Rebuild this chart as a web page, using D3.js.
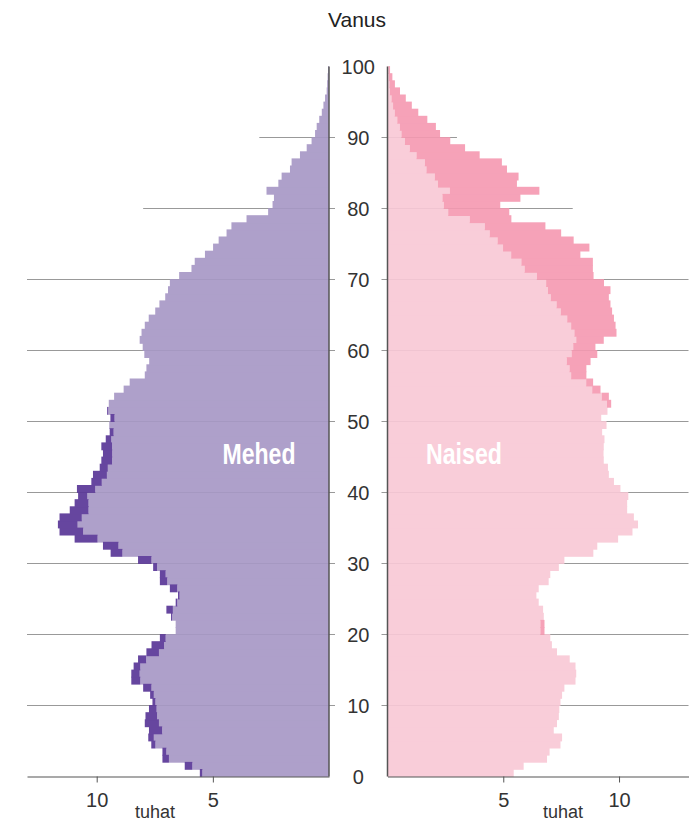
<!DOCTYPE html>
<html>
<head>
<meta charset="utf-8">
<script src="https://cdn.jsdelivr.net/npm/d3@7"></script>
<style>
  body { margin: 0; background: #fff; }
  svg { display: block; font-family: "Liberation Sans", Arial, sans-serif; }
</style>
</head>
<body>
<svg></svg>
<script>
// vanus 0..99, tuhandetes
const ages = d3.range(0, 100);

const male = [
  5.56, 6.21, 7.17, 7.17, 7.65, 7.78, 7.75, 7.93, 7.90, 7.75,
  7.60, 7.70, 8.00, 8.51, 8.51, 8.41, 8.22, 7.86, 7.64, 7.28,
  6.60, 6.60, 6.80, 7.00, 6.60, 6.50, 6.85, 7.28, 7.28, 7.57,
  8.22, 9.40, 9.73, 10.95, 11.60, 11.67, 11.60, 11.16, 10.95, 10.80,
  10.85, 10.23, 10.16, 9.87, 9.80, 9.73, 9.80, 9.61, 9.44, 9.46,
  9.41, 9.55, 9.48, 9.25, 8.84, 8.58, 7.93, 7.86, 7.74, 7.95,
  8.02, 8.15, 8.07, 7.93, 7.76, 7.48, 7.30, 7.05, 6.93, 6.85,
  6.45, 5.92, 5.78, 5.34, 4.99, 4.75, 4.41, 4.20, 3.55, 2.62,
  2.43, 2.37, 2.69, 2.18, 2.04, 1.68, 1.61, 1.25, 0.96, 0.75,
  0.60, 0.53, 0.42, 0.31, 0.24, 0.17, 0.10, 0.08, 0.06, 0.04
];

const female = [
  5.45, 5.88, 6.89, 7.00, 7.47, 7.54, 7.18, 7.32, 7.40, 7.42,
  7.47, 7.54, 7.64, 8.12, 8.15, 8.12, 7.87, 7.32, 7.10, 7.03,
  6.78, 6.78, 6.75, 6.72, 6.53, 6.43, 6.53, 6.96, 7.03, 7.40,
  7.64, 8.89, 9.06, 9.96, 10.58, 10.82, 10.64, 10.35, 10.35, 10.40,
  10.06, 9.78, 9.56, 9.52, 9.34, 9.33, 9.34, 9.37, 9.27, 9.46,
  9.23, 9.50, 9.66, 9.56, 9.20, 8.88, 8.59, 8.59, 8.77, 9.06,
  8.98, 9.34, 9.89, 9.85, 9.78, 9.70, 9.63, 9.56, 9.63, 9.35,
  8.90, 8.87, 8.87, 8.33, 8.72, 8.04, 7.50, 6.82, 5.35, 5.26,
  4.87, 5.74, 6.56, 5.59, 5.66, 5.16, 4.94, 3.98, 3.35, 2.71,
  2.27, 2.09, 1.72, 1.33, 1.05, 0.79, 0.54, 0.32, 0.21, 0.11
];

const ageTicks = [0, 10, 20, 30, 40, 50, 60, 70, 80, 90, 100];
const gridAges = [10, 20, 30, 40, 50, 60, 70, 80, 90];
const gridReach = [13, 13, 13, 13, 13, 13, 13, 8, 3];   // kui kaugele joon ulatub (tuhat)
const valueTicks = [5, 10];

const width = 690;
const height = 822;
const svg = d3.select("svg")
    .attr("width", width)
    .attr("height", height);

const colLightM = "#a898c6";
const colDarkM = "#5a3797";
const colLightF = "#f9c9d6";
const colDarkF = "#f69bb2";
const textCol = "#333";

const y = d3.scaleLinear().domain([0, 100]).range([776.5, 66.5]);
const xL = d3.scaleLinear().domain([0, 13]).range([329, 27]);
const xR = d3.scaleLinear().domain([0, 13]).range([387.5, 688.5]);

// ribad kattuvad veidi, et vahele ei jääks valgeid triipe
const pad = 0.4;
const barY = d => y(d.age + 1) - pad;
const barH = d => y(d.age) - y(d.age + 1) + 2 * pad;

// ruudustik
const grid = svg.append("g");
gridAges.forEach((a, i) => {
    grid.append("line")
        .attr("x1", xL(gridReach[i])).attr("x2", xL(0) + 6)
        .attr("y1", y(a)).attr("y2", y(a))
        .attr("stroke", "#999").attr("stroke-width", 1);
    grid.append("line")
        .attr("x1", xR(0) - 6).attr("x2", xR(gridReach[i]))
        .attr("y1", y(a)).attr("y2", y(a))
        .attr("stroke", "#999").attr("stroke-width", 1);
});

const bars = svg.append("g").attr("opacity", 0.92);
const rows = ages.map((a, i) => ({ age: a, m: male[i], f: female[i] }));

// mehed
bars.selectAll("rect.ml")
    .data(rows)
    .enter().append("rect")
    .attr("x", d => xL(Math.min(d.m, d.f)))
    .attr("y", barY)
    .attr("width", d => xL(0) - xL(Math.min(d.m, d.f)))
    .attr("height", barH)
    .attr("fill", colLightM);

bars.selectAll("rect.md")
    .data(rows.filter(d => d.m > d.f))
    .enter().append("rect")
    .attr("x", d => xL(d.m))
    .attr("y", barY)
    .attr("width", d => xL(d.f) - xL(d.m))
    .attr("height", barH)
    .attr("fill", colDarkM);

// naised
bars.selectAll("rect.fl")
    .data(rows)
    .enter().append("rect")
    .attr("x", xR(0))
    .attr("y", barY)
    .attr("width", d => xR(Math.min(d.m, d.f)) - xR(0))
    .attr("height", barH)
    .attr("fill", colLightF);

bars.selectAll("rect.fd")
    .data(rows.filter(d => d.f > d.m))
    .enter().append("rect")
    .attr("x", d => xR(d.m))
    .attr("y", barY)
    .attr("width", d => xR(d.f) - xR(d.m))
    .attr("height", barH)
    .attr("fill", colDarkF);

// teljed
function styleAxis(g) {
    g.select(".domain").attr("stroke", "#555").attr("stroke-width", 1.2);
    g.selectAll(".tick line").attr("stroke", "#555");
    g.selectAll(".tick text")
        .attr("fill", textCol)
        .style("font-size", "20px")
        .attr("dy", "1.05em");
}

svg.append("g")
    .attr("transform", `translate(0,${y(0)})`)
    .call(d3.axisBottom(xL).tickValues(valueTicks).tickSize(6).tickSizeOuter(0))
    .call(styleAxis);

svg.append("g")
    .attr("transform", `translate(0,${y(0)})`)
    .call(d3.axisBottom(xR).tickValues(valueTicks).tickSize(6).tickSizeOuter(0))
    .call(styleAxis);

[xL(0), xR(0)].forEach(x => {
    svg.append("line")
        .attr("x1", x).attr("x2", x)
        .attr("y1", y(100)).attr("y2", y(0))
        .attr("stroke", "#555").attr("stroke-width", 1.5);
});

svg.selectAll("text.age")
    .data(ageTicks)
    .enter().append("text")
    .attr("class", "age")
    .attr("x", (xL(0) + xR(0)) / 2)
    .attr("y", d => y(d))
    .attr("dy", "0.36em")
    .attr("text-anchor", "middle")
    .attr("fill", textCol)
    .style("font-size", "20px")
    .text(d => d);

svg.append("text")
    .attr("x", 357)
    .attr("y", 27)
    .attr("text-anchor", "middle")
    .attr("fill", "#222")
    .style("font-size", "21px")
    .text("Vanus");

[[155, "tuhat"], [563, "tuhat"]].forEach(([x, t]) => {
    svg.append("text")
        .attr("x", x)
        .attr("y", 818)
        .attr("text-anchor", "middle")
        .attr("fill", textCol)
        .style("font-size", "18px")
        .text(t);
});

[[259, "Mehed", 73], [464, "Naised", 76]].forEach(([x, t, w]) => {
    svg.append("text")
        .attr("x", x - w / 2)
        .attr("y", 464)
        .attr("fill", "#fff")
        .attr("textLength", w)
        .attr("lengthAdjust", "spacingAndGlyphs")
        .style("font-family", "'Liberation Sans Narrow', 'Liberation Sans', Arial, sans-serif")
        .style("font-weight", "bold")
        .style("font-size", "29px")
        .text(t);
});
</script>
</body>
</html>
